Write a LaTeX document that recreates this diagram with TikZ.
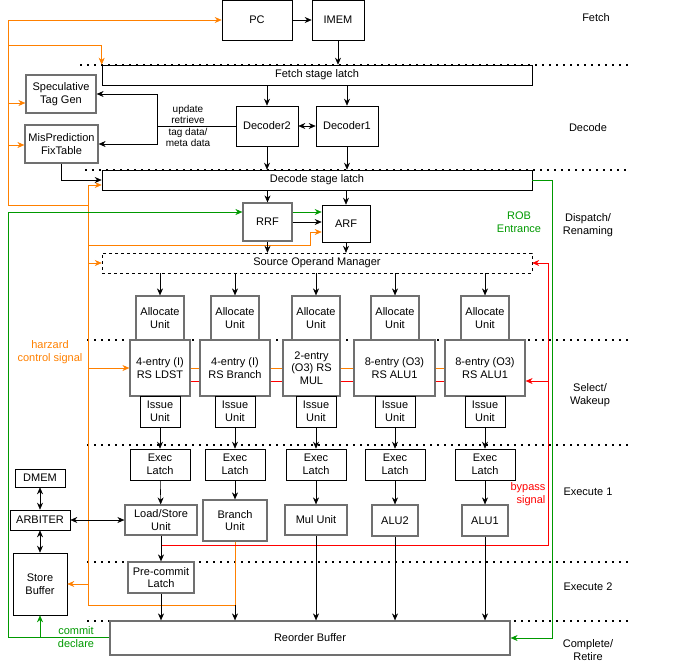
\documentclass[tikz,border=0pt]{standalone}
\usepackage{fontspec}
\setmainfont{Liberation Sans}
\usepackage{xcolor}
\usetikzlibrary{arrows.meta}
\definecolor{ored}{HTML}{FF8000}
\definecolor{ogreen}{HTML}{009900}
\definecolor{bgray}{HTML}{707070}
\tikzset{arrow/.style={->,>={Stealth[length=7pt,width=6pt]},semithick},
  biarrow/.style={<->,>={Stealth[length=7pt,width=6pt]},semithick},
  oarrow/.style={arrow,ored},garrow/.style={arrow,ogreen},rarrow/.style={arrow,red},
  box/.style={rectangle,draw=black,semithick,inner sep=1pt,text centered,align=center},
  unit/.style={box,draw=bgray,line width=1.2pt},
  latch/.style={box,minimum width=430pt,minimum height=20pt},
  sep/.style={line width=1.8pt,dash pattern=on 1.8pt off 5.2pt}}

\begin{document}
\begin{tikzpicture}[x=1pt,y=-1pt,font=\fontsize{11}{12.5}\selectfont]
\useasboundingbox (0,0) rectangle (672,672);

\draw[sep] (80,65) -- (630,65);
\draw[sep] (85,170) -- (630,170);
\draw[sep] (87,340) -- (630,340);
\draw[sep] (87,445) -- (630,445);
\draw[sep] (87,562) -- (630,562);
\draw[sep] (87,621) -- (630,621);

\node(pc) at (257,20) [box, minimum width=70pt, minimum height=40pt] {PC};
\node(imem) at (338,20) [box, minimum width=52pt, minimum height=40pt] {IMEM};
\node(fetch) at (317,75) [latch, fill=white] {Fetch stage latch};
\node(spec) at (61,94) [unit, minimum width=70pt, minimum height=38pt] {Speculative\\Tag Gen};
\node(mis) at (61.5,144) [unit, minimum width=73pt, minimum height=38pt] {MisPrediction\\FixTable};
\node(dec2) at (267,126) [box, minimum width=62pt, minimum height=40pt] {Decoder2};
\node(dec1) at (347,126) [box, minimum width=62pt, minimum height=40pt] {Decoder1};
\node(decode) at (317,180) [latch, fill=white] {Decode stage latch};
\node(rrf) at (267.5,222) [unit, minimum width=49pt, minimum height=38pt] {RRF};
\node(arf) at (346,223.5) [box, minimum width=48pt, minimum height=37pt] {ARF};
\node(som) at (317,263) [latch, dashed, thin] {Source Operand Manager};

\node(al1) at (160,318) [unit, minimum width=48pt, minimum height=44pt] {Allocate\\Unit};
\node(al2) at (235,318) [unit, minimum width=48pt, minimum height=44pt] {Allocate\\Unit};
\node(al3) at (316,318) [unit, minimum width=48pt, minimum height=44pt] {Allocate\\Unit};
\node(al4) at (395,318) [unit, minimum width=48pt, minimum height=44pt] {Allocate\\Unit};
\node(al5) at (485,318) [unit, minimum width=48pt, minimum height=44pt] {Allocate\\Unit};

\node(ldst) at (160,368) [unit, minimum width=60pt, minimum height=56pt] {4-entry (I)\\RS LDST};
\node(rsbr) at (235,368) [unit, minimum width=70pt, minimum height=56pt] {4-entry (I)\\RS Branch};
\node(rsmul) at (311.5,368) [unit, minimum width=57pt, minimum height=56pt] {2-entry\\(O3) RS\\MUL};
\node(rsa) at (394.5,368) [unit, minimum width=81pt, minimum height=56pt] {8-entry (O3)\\RS ALU1};
\node(rsb) at (485,368) [unit, minimum width=80pt, minimum height=56pt] {8-entry (O3)\\RS ALU1};

\node(is1) at (160,411.5) [box, minimum width=40pt, minimum height=31pt] {Issue\\Unit};
\node(is2) at (235,411.5) [box, minimum width=40pt, minimum height=31pt] {Issue\\Unit};
\node(is3) at (316,411.5) [box, minimum width=40pt, minimum height=31pt] {Issue\\Unit};
\node(is4) at (395,411.5) [box, minimum width=40pt, minimum height=31pt] {Issue\\Unit};
\node(is5) at (485,411.5) [box, minimum width=40pt, minimum height=31pt] {Issue\\Unit};

\node(ex1) at (160,464.5) [box, minimum width=60pt, minimum height=31pt] {Exec\\Latch};
\node(ex2) at (235,464.5) [box, minimum width=60pt, minimum height=31pt] {Exec\\Latch};
\node(ex3) at (316,464.5) [box, minimum width=60pt, minimum height=31pt] {Exec\\Latch};
\node(ex4) at (395,464.5) [box, minimum width=60pt, minimum height=31pt] {Exec\\Latch};
\node(ex5) at (485,464.5) [box, minimum width=60pt, minimum height=31pt] {Exec\\Latch};

\node(lsu) at (161,520) [unit, minimum width=72pt, minimum height=30pt] {Load/Store\\Unit};
\node(bru) at (235,520.5) [unit, minimum width=64pt, minimum height=41pt] {Branch\\Unit};
\node(mulu) at (316,520) [unit, minimum width=62pt, minimum height=30pt] {Mul Unit};
\node(alu2) at (395,520.5) [unit, minimum width=46pt, minimum height=31pt] {ALU2};
\node(alu1) at (485,520.5) [unit, minimum width=46pt, minimum height=31pt] {ALU1};
\node(pcl) at (161,577.5) [unit, minimum width=66pt, minimum height=31pt] {Pre-commit\\Latch};
\node(rob) at (310,638) [unit, minimum width=400pt, minimum height=34pt] {Reorder Buffer};

\node(dmem) at (40,478) [box, minimum width=50pt, minimum height=18pt] {DMEM};
\node(arb) at (40,520) [box, minimum width=60pt, minimum height=20pt] {ARBITER};
\node(sb) at (40,584) [box, minimum width=54pt, minimum height=62pt] {Store\\Buffer};

% stage names
\node at (596,18) {Fetch};
\node at (588,128) {Decode};
\node[align=center] at (588,225) {Dispatch/\\Renaming};
\node[align=center] at (590,395) {Select/\\Wakeup};
\node at (588,492) {Execute 1};
\node at (588,587) {Execute 2};
\node[align=center] at (588,650) {Complete/\\Retire};

\node[ored, align=center] at (50,352) {harzard\\control signal};
\node[ogreen, align=center] at (519,222) {ROB\\Entrance};
\node[red, align=right] at (528,494) {bypass\\signal};
\node[ogreen, align=center] at (76,637) {commit\\declare};
\node[align=center, font=\fontsize{10}{11.5}\selectfont] at (188,126) {update\\retrieve\\tag data/\\meta data};

% orange control lines
\coordinate(ot) at (8,20);
\coordinate(ob) at (8,205);
\coordinate(o1) at (8,45);
\coordinate(o2) at (8,103);
\coordinate(o3) at (8,145);
\coordinate(o4) at (88,185);
\coordinate(o5) at (88,605);
\coordinate(o6) at (88,245);
\coordinate(o7) at (310,245);
\coordinate(o8) at (88,263);
\coordinate(o9) at (88,368);
\coordinate(o10) at (88,584);
\draw[oarrow] (ob) -- (ot) -- (pc.west);
\draw[oarrow] (o1) -| (fetch.north west);
\draw[oarrow] (o2) -- (o2 -| spec.west);
\draw[oarrow] (o3) -- (o3 -| mis.west);
\draw[ored, semithick] (ob) -- (88,205);
\draw[ored, semithick] (o4) -- (o5);
\draw[oarrow] (o4) -- (o4 -| decode.west);
\draw[oarrow] (o6) -- (o7) |- (arf.west |- 0,232);
\draw[oarrow] (o8) -- (som.west);
\draw[oarrow] (o9) -- (ldst.west);
\draw[oarrow] (o10) -- (sb.east);
\draw[ored, semithick] (o5) -| (bru.south);
\draw[ored] (ldst.east) -- (rsbr.west);
\draw[ored] (rsbr.east) -- (rsmul.west);
\draw[ored] (rsmul.east) -- (rsa.west);
\draw[ored] (rsa.east) -- (rsb.west);

% green commit lines
\coordinate(g1) at (8,212);
\coordinate(g2) at (8,637);
\coordinate(g3) at (40,637);
\coordinate(g4) at (552,180);
\draw[garrow] (g2) -- (g1) -- (rrf.west |- g1);
\draw[garrow] (rrf.east |- g1) -- (arf.west |- g1);
\draw[ogreen, semithick] (g2) -- (rob.west |- g2);
\draw[garrow] (g3) -- (sb.south);
\draw[garrow] (decode.east) -- (g4) |- (rob.east);

% red bypass lines
\coordinate(r1) at (548,545);
\coordinate(r2) at (548,381);
\draw[rarrow] (lsu.south) |- (r1) |- (som.east);
\draw[rarrow] (r2) -- (r2 -| rsb.east);
\draw[red] (ldst.east |- r2) -- (rsbr.west |- r2);
\draw[red] (rsbr.east |- r2) -- (rsmul.west |- r2);
\draw[red] (rsmul.east |- r2) -- (rsa.west |- r2);
\draw[red] (rsa.east |- r2) -- (rsb.west |- r2);

% data path
\coordinate(d1) at (157,126);
\draw[arrow] (pc) -- (imem);
\draw[arrow] (imem.south) -- (imem.south |- fetch.north);
\draw[arrow] (dec2.north |- fetch.south) -- (dec2.north);
\draw[arrow] (dec1.north |- fetch.south) -- (dec1.north);
\draw[biarrow] (dec2) -- (dec1);
\draw[semithick] (dec2.west) -- (d1);
\draw[arrow] (d1) |- (spec.east);
\draw[arrow] (d1) |- (mis.east);
\draw[arrow] (mis.south) |- (decode.west);
\draw[arrow] (dec2.south) -- (dec2.south |- decode.north);
\draw[arrow] (dec1.south) -- (dec1.south |- decode.north);
\draw[arrow] (rrf.north |- decode.south) -- (rrf.north);
\draw[arrow] (arf.north |- decode.south) -- (arf.north);
\draw[arrow] (rrf.east) -- (arf.west |- rrf.east);
\draw[arrow] (rrf.south) -- (rrf.south |- som.north);
\draw[arrow] (arf.south) -- (arf.south |- som.north);
\draw[arrow] (al1.north |- som.south) -- (al1.north);
\draw[arrow] (al2.north |- som.south) -- (al2.north);
\draw[arrow] (al3.north |- som.south) -- (al3.north);
\draw[arrow] (al4.north |- som.south) -- (al4.north);
\draw[arrow] (al5.north |- som.south) -- (al5.north);
\draw[arrow] (is1) -- (ex1);
\draw[arrow] (is2) -- (ex2);
\draw[arrow] (is3) -- (ex3);
\draw[arrow] (is4) -- (ex4);
\draw[arrow] (is5) -- (ex5);
\draw[arrow] (ex1) -- (lsu);
\draw[arrow] (ex2) -- (bru);
\draw[arrow] (ex3) -- (mulu);
\draw[arrow] (ex4) -- (alu2);
\draw[arrow] (ex5) -- (alu1);
\draw[arrow] (lsu) -- (pcl);
\draw[arrow] (pcl.south) -- (pcl.south |- rob.north);
\draw[arrow] (bru.south |- o5) -- (bru.south |- rob.north);
\draw[arrow] (mulu.south) -- (mulu.south |- rob.north);
\draw[arrow] (alu2.south) -- (alu2.south |- rob.north);
\draw[arrow] (alu1.south) -- (alu1.south |- rob.north);
\draw[biarrow] (dmem) -- (arb);
\draw[biarrow] (arb) -- (sb);
\draw[biarrow] (arb) -- (lsu);

\end{tikzpicture}
\end{document}
